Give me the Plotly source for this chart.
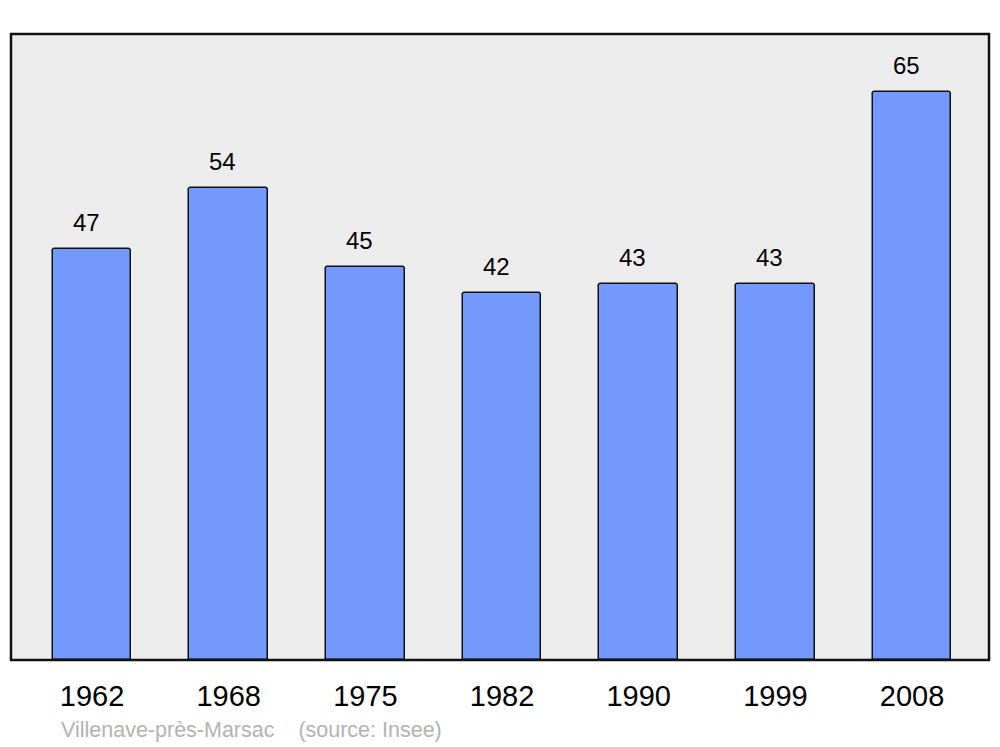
import plotly.graph_objects as go

years = ["1962", "1968", "1975", "1982", "1990", "1999", "2008"]
population = [47, 54, 45, 42, 43, 43, 65]
footer = "Villenave-près-Marsac    (source: Insee)"

fig = go.Figure()
fig.add_trace(go.Bar(
    x=years, y=population, width=0.575,
    marker=dict(color="#7399ff", line=dict(color="#111111", width=1.5), cornerradius=3),
    hoverinfo="x+y",
))
for i, v in enumerate(population):
    fig.add_annotation(x=i, y=v, text=str(v), showarrow=False, xanchor="center",
                       yanchor="bottom", yshift=11, xshift=-6,
                       font=dict(family="Liberation Sans, Arial", size=24, color="#000"))
fig.add_annotation(x=48/978, y=-0.112, xref="paper", yref="paper", text=footer,
                   showarrow=False, xanchor="left", yanchor="middle",
                   font=dict(family="Liberation Sans, Arial", size=21.5, color="#b3b3b3"))
fig.add_shape(type="rect", xref="paper", yref="paper", x0=0, x1=1, y0=0, y1=1,
              line=dict(color="#111111", width=2.5), layer="above")
fig.update_layout(
    width=992, height=739,
    margin=dict(l=3, r=11, t=26, b=87),
    paper_bgcolor="white", plot_bgcolor="#ececec",
    showlegend=False, bargap=0,
    xaxis=dict(type="category", range=[-0.593, 6.563], showgrid=False, zeroline=False,
               showline=False, ticks="", ticklabelstandoff=16,
               tickfont=dict(family="Liberation Sans, Arial", size=29, color="#000")),
    yaxis=dict(range=[0, 71.6], showgrid=False, zeroline=False, showticklabels=False,
               showline=False),
)
fig.write_html("out.html")
